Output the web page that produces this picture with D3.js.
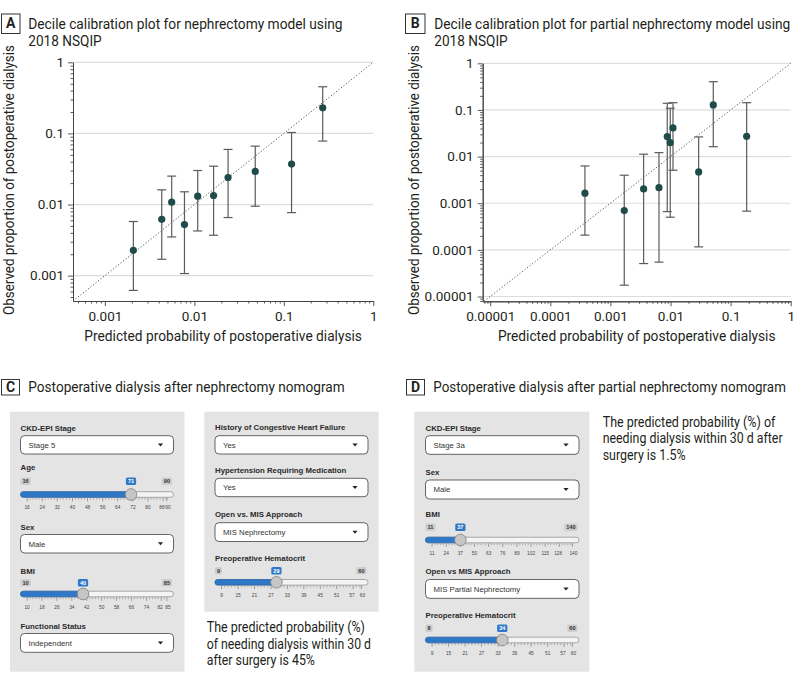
<!DOCTYPE html>
<html><head><meta charset="utf-8">
<script src="https://cdn.jsdelivr.net/npm/d3@7"></script>
<style>body{margin:0;background:#fff} svg{display:block}</style>
</head><body><svg id="fig" width="796" height="690"></svg>
<script>
// ---------------- DATA ----------------
// Panel A: decile calibration, nephrectomy model
const predA = [0.00208, 0.00432, 0.00558, 0.00775, 0.0109, 0.0164, 0.0238, 0.0479, 0.122, 0.272];
const obsA  = [0.00227, 0.0062, 0.0108, 0.00523, 0.0131, 0.0134, 0.024, 0.0292, 0.037, 0.229];
const loA   = [0.00062, 0.0017, 0.0035, 0.00107, 0.00425, 0.0037, 0.00656, 0.00946, 0.0077, 0.078];
const hiA   = [0.00577, 0.0161, 0.0251, 0.0151, 0.0301, 0.0346, 0.0595, 0.0662, 0.103, 0.453];
// Panel B: decile calibration, partial nephrectomy model
const predB = [0.000377, 0.0017, 0.00357, 0.00643, 0.00883, 0.0099, 0.011, 0.0294, 0.0515, 0.185];
const obsB  = [0.00164, 0.000695, 0.00203, 0.00216, 0.0268, 0.0199, 0.0411, 0.00469, 0.128, 0.0273];
const loB   = [0.000207, 0.0000175, 0.0000509, 0.0000546, 0.000662, 0.000502, 0.0051, 0.000116, 0.0163, 0.000676];
const hiB   = [0.0063, 0.00399, 0.01124, 0.01216, 0.139, 0.1087, 0.143, 0.0264, 0.403, 0.143];

const ticksA = [0.001, 0.01, 0.1, 1];
const tickLabelsA = ["0.001", "0.01", "0.1", "1"];
const ticksB = [0.00001, 0.0001, 0.001, 0.01, 0.1, 1];
const tickLabelsB = ["0.00001", "0.0001", "0.001", "0.01", "0.1", "1"];

const titleA = ["Decile calibration plot for nephrectomy model using", "2018 NSQIP"];
const titleB = ["Decile calibration plot for partial nephrectomy model using", "2018 NSQIP"];
const titleC = "Postoperative dialysis after nephrectomy nomogram";
const titleD = "Postoperative dialysis after partial nephrectomy nomogram";
const xTitle = "Predicted probability of postoperative dialysis";
const yTitle = "Observed proportion of postoperative dialysis";

// Nomogram inputs
const inputsC1 = [
  {kind: "select", label: "CKD-EPI Stage", value: "Stage 5"},
  {kind: "slider", label: "Age", min: 16, max: 90, value: 71, grid: [16, 24, 32, 40, 48, 56, 64, 72, 80, 88, 90]},
  {kind: "select", label: "Sex", value: "Male"},
  {kind: "slider", label: "BMI", min: 10, max: 85, value: 40, grid: [10, 18, 26, 34, 42, 50, 58, 66, 74, 82, 85]},
  {kind: "select", label: "Functional Status", value: "Independent"}
];
const inputsC2 = [
  {kind: "select", label: "History of Congestive Heart Failure", value: "Yes"},
  {kind: "select", label: "Hypertension Requiring Medication", value: "Yes"},
  {kind: "select", label: "Open vs. MIS Approach", value: "MIS Nephrectomy"},
  {kind: "slider", label: "Preoperative Hematocrit", min: 9, max: 60, value: 29, grid: [9, 15, 21, 27, 33, 39, 45, 51, 57, 60]}
];
const inputsD = [
  {kind: "select", label: "CKD-EPI Stage", value: "Stage 3a"},
  {kind: "select", label: "Sex", value: "Male"},
  {kind: "slider", label: "BMI", min: 11, max: 140, value: 37, grid: [11, 24, 37, 50, 63, 76, 89, 102, 115, 128, 140]},
  {kind: "select", label: "Open vs MIS Approach", value: "MIS Partial Nephrectomy"},
  {kind: "slider", label: "Preoperative Hematocrit", min: 8, max: 60, value: 34, grid: [9, 15, 21, 27, 33, 39, 45, 51, 57, 60]}
];
const resultC = ["The predicted probability (%)", "of needing dialysis within 30 d", "after surgery is 45%"];
const resultD = ["The predicted probability (%) of", "needing dialysis within 30 d after", "surgery is 1.5%"];

// ---------------- DRAWING ----------------
const svg = d3.select("#fig");
const FONT = "Roboto, Lato, 'DejaVu Sans', sans-serif";
const UI = "'Liberation Sans', Arial, Helvetica, sans-serif";
const INK = "#231f20";

// text placed with a horizontal scale so that its rendered width equals w
function ftext(parent, x, y, str, size, w, opts = {}) {
  const g = parent.append("g");
  const t = g.append("text").attr("x", 0).attr("y", 0).attr("font-family", opts.family || FONT)
    .attr("font-size", size).attr("fill", opts.fill || INK)
    .attr("text-anchor", opts.anchor || "start").text(str);
  if (opts.weight) t.attr("font-weight", opts.weight);
  const n = t.node().getComputedTextLength();
  const k = w ? w / n : 1;
  g.attr("transform", `translate(${x},${y})${opts.rotate ? ` rotate(${opts.rotate})` : ""} scale(${k},1)`);
  return t;
}

function panelLabel(x, y, w, h, letter) {
  svg.append("rect").attr("x", x + 0.5).attr("y", y + 0.5).attr("width", w).attr("height", h)
    .attr("fill", "#fff").attr("stroke", "#333").attr("stroke-width", 1);
  svg.append("text").attr("x", x + 0.5 + w / 2).attr("y", y + h / 2 + 5)
    .attr("text-anchor", "middle").attr("font-family", FONT).attr("font-weight", "bold")
    .attr("font-size", 14).attr("fill", INK).text(letter);
}

function calib(o) {
  const g = svg.append("g");
  const x = d3.scaleLog().domain(o.xd).range(o.xr);
  const y = d3.scaleLog().domain(o.yd).range(o.yr);
  // gridlines
  g.selectAll("line.grid").data(o.ticks).join("line").attr("class", "grid")
    .attr("x1", o.xr[0]).attr("x2", o.xr[1])
    .attr("y1", d => y(d)).attr("y2", d => y(d))
    .attr("stroke", "#dddddd").attr("stroke-width", 1.2);
  // minor ticks
  const minorX = [], minorY = [];
  for (let e = -6; e <= 0; e++) for (let m = 2; m <= 9; m++) {
    const v = m * Math.pow(10, e);
    if (v >= o.xd[0] && v <= o.xd[1]) minorX.push(v);
    if (v >= o.yd[0] && v <= o.yd[1]) minorY.push(v);
  }
  const styleAxis = s => {
    s.select(".domain").attr("stroke", "#444").attr("stroke-width", 1);
    s.selectAll(".tick line").attr("stroke", "#444").attr("stroke-width", 0.9);
    s.selectAll("text").attr("font-family", FONT).attr("font-size", 13.5).attr("fill", INK);
    s.attr("font-family", null).attr("font-size", null);
  };
  g.append("g").attr("transform", `translate(0,${o.yr[0]})`)
    .call(d3.axisBottom(x).tickValues(minorX).tickSize(2.5).tickFormat("").tickSizeOuter(0)).call(styleAxis);
  g.append("g").attr("transform", `translate(0,${o.yr[0]})`)
    .call(d3.axisBottom(x).tickValues(o.ticks).tickSize(5).tickPadding(5).tickFormat((d, i) => o.labels[i]).tickSizeOuter(0))
    .call(styleAxis);
  g.append("g").attr("transform", `translate(${o.xr[0]},0)`)
    .call(d3.axisLeft(y).tickValues(minorY).tickSize(2.5).tickFormat("").tickSizeOuter(0)).call(styleAxis);
  g.append("g").attr("transform", `translate(${o.xr[0]},0)`)
    .call(d3.axisLeft(y).tickValues(o.ticks).tickSize(5).tickPadding(4).tickFormat((d, i) => o.labels[i]).tickSizeOuter(0))
    .call(styleAxis);
  // identity line
  const d0 = Math.max(o.xd[0], o.yd[0]);
  g.append("line").attr("x1", x(d0)).attr("y1", y(d0)).attr("x2", x(1)).attr("y2", y(1))
    .attr("stroke", "#555").attr("stroke-width", 1).attr("stroke-dasharray", "1.2,2");
  // error bars
  const idx = d3.range(o.pred.length);
  const eb = g.selectAll("g.eb").data(idx).join("g").attr("class", "eb")
    .attr("stroke", "#5b5b5b").attr("stroke-width", 1.2);
  eb.append("line").attr("x1", i => x(o.pred[i])).attr("x2", i => x(o.pred[i]))
    .attr("y1", i => y(o.lo[i])).attr("y2", i => y(o.hi[i]));
  eb.append("line").attr("x1", i => x(o.pred[i]) - 4.5).attr("x2", i => x(o.pred[i]) + 4.5)
    .attr("y1", i => y(o.lo[i])).attr("y2", i => y(o.lo[i]));
  eb.append("line").attr("x1", i => x(o.pred[i]) - 4.5).attr("x2", i => x(o.pred[i]) + 4.5)
    .attr("y1", i => y(o.hi[i])).attr("y2", i => y(o.hi[i]));
  g.selectAll("circle.pt").data(idx).join("circle").attr("class", "pt")
    .attr("cx", i => x(o.pred[i])).attr("cy", i => y(o.obs[i])).attr("r", 3.6)
    .attr("fill", "#1f4c4a");
  // axis titles
  ftext(g, (o.xr[0] + o.xr[1]) / 2, 341, xTitle, 14.5, 278, {anchor: "middle"});
  ftext(g, o.ylx, 180, yTitle, 14.5, 270, {anchor: "middle", rotate: -90});
}

// Panel A
panelLabel(1, 13.5, 18.5, 19.5, "A");
ftext(svg, 28.3, 28.5, titleA[0], 14.6, 314.4);
ftext(svg, 28.3, 45.6, titleA[1], 14.6, 73.4);
calib({xd: [0.00044, 1], yd: [0.00044, 1], xr: [73, 373.3], yr: [301, 62.3],
  ticks: ticksA, labels: tickLabelsA, pred: predA, obs: obsA, lo: loA, hi: hiA, ylx: 13.5});

// Panel B
panelLabel(405, 13.5, 19.5, 19.5, "B");
ftext(svg, 434.3, 28.5, titleB[0], 14.6, 356.4);
ftext(svg, 434.3, 45.6, titleB[1], 14.6, 73.4);
calib({xd: [0.0000075, 1], yd: [0.0000079, 1], xr: [482.7, 790.7], yr: [301.3, 63.3],
  ticks: ticksB, labels: tickLabelsB, pred: predB, obs: obsB, lo: loB, hi: hiB, ylx: 418.5});

// Panel C / D titles
panelLabel(1, 379, 18, 15.5, "C");
ftext(svg, 28.3, 392, titleC, 15, 316.7);
panelLabel(406, 379, 18, 15.5, "D");
ftext(svg, 433.3, 392, titleD, 15, 352.7);

// ---------- nomogram widgets ----------
function uiLabel(g, x, yc, str) {
  g.append("text").attr("x", x).attr("y", yc + 2.8).attr("font-family", UI).attr("font-weight", "bold")
    .attr("font-size", 7.8).attr("fill", "#2a2a2a").text(str);
}
function uiSelect(g, x0, x1, top, bot, str) {
  g.append("rect").attr("x", x0).attr("y", top).attr("width", x1 - x0).attr("height", bot - top)
    .attr("rx", 4).attr("fill", "#fff").attr("stroke", "#555").attr("stroke-width", 0.9);
  g.append("text").attr("x", x0 + 8).attr("y", (top + bot) / 2 + 2.8).attr("font-family", UI)
    .attr("font-size", 7.8).attr("fill", "#333").text(str);
  const cx = x1 - 13, cy = (top + bot) / 2;
  g.append("path").attr("d", `M${cx - 2.6},${cy - 1.4}L${cx + 2.6},${cy - 1.4}L${cx},${cy + 1.6}Z`).attr("fill", "#222");
}
function badge(g, cx, cy, str, blue, anchor) {
  const t = g.append("text").attr("y", cy + 2).attr("font-family", UI).attr("font-weight", "bold")
    .attr("font-size", 5.6).attr("fill", blue ? "#fff" : "#333").attr("text-anchor", "middle").text(str);
  const w = t.node().getComputedTextLength() + 4;
  let x0 = cx - w / 2;
  if (anchor === "start") x0 = cx;
  if (anchor === "end") x0 = cx - w;
  t.attr("x", x0 + w / 2);
  g.insert("rect", () => t.node()).attr("x", x0).attr("y", cy - 3.7).attr("width", w).attr("height", 7.4)
    .attr("rx", 1.5).attr("fill", blue ? "#2f78c8" : "#cdcdcd");
}
function uiSlider(g, x0, x1, yBadge, yTrack, yGrid, s) {
  const pad = 6.6;
  const sx = d3.scaleLinear().domain([s.min, s.max]).range([x0 + pad, x1 - pad]);
  const gx = d3.scaleLinear().domain([s.grid[0], s.grid[s.grid.length - 1]]).range([x0 + pad, x1 - pad]);
  // track
  g.append("rect").attr("x", x0).attr("y", yTrack - 2.8).attr("width", x1 - x0).attr("height", 5.6)
    .attr("rx", 2.8).attr("fill", "#f4f4f4").attr("stroke", "#8a8a8a").attr("stroke-width", 0.7);
  g.append("rect").attr("x", x0).attr("y", yTrack - 2.8).attr("width", sx(s.value) - x0).attr("height", 5.6)
    .attr("rx", 2.8).attr("fill", "#2f78c8").attr("stroke", "#1d5ea8").attr("stroke-width", 0.6);
  // grid ticks
  const gl = s.grid;
  for (let i = 0; i < gl.length; i++) {
    const xv = gx(gl[i]);
    g.append("line").attr("x1", xv).attr("x2", xv).attr("y1", yTrack + 3.2).attr("y2", yTrack + 6.8)
      .attr("stroke", "#666").attr("stroke-width", 0.6);
    if (i < gl.length - 1) {
      const step = (gl[1] - gl[0]) / 5;
      for (let k = 1; k < 5; k++) {
        const v = gl[i] + k * step;
        if (v >= gl[i + 1]) break;
        g.append("line").attr("x1", gx(v)).attr("x2", gx(v)).attr("y1", yTrack + 3.2).attr("y2", yTrack + 5.2)
          .attr("stroke", "#777").attr("stroke-width", 0.5);
      }
    }
    // keep the closely spaced last pair of labels from touching
    let lx = xv;
    if (i === gl.length - 2) lx -= 1.2;
    if (i === gl.length - 1) lx += 1;
    g.append("text").attr("x", lx).attr("y", yGrid + 1.8).attr("text-anchor", "middle")
      .attr("font-family", UI).attr("font-size", 4.8).attr("fill", "#444").text(gl[i]);
  }
  // handle
  g.append("circle").attr("cx", sx(s.value)).attr("cy", yTrack).attr("r", 5.8)
    .attr("fill", "#c6c6c6").attr("stroke", "#7d7d7d").attr("stroke-width", 0.8);
  // badges
  badge(g, x0, yBadge, s.min, false, "start");
  badge(g, x1 - 1.5, yBadge, s.max, false, "end");
  badge(g, sx(s.value), yBadge, s.value, true, "middle");
}
function nomo(box, inputs, layout) {
  const g = svg.append("g");
  g.append("rect").attr("x", box.x0).attr("y", box.y0).attr("width", box.x1 - box.x0).attr("height", box.y1 - box.y0)
    .attr("fill", "#e4e4e4");
  inputs.forEach((it, i) => {
    const L = layout[i];
    uiLabel(g, box.ix0, L.label, it.label);
    if (it.kind === "select") uiSelect(g, box.ix0, box.ix1, L.top, L.bot, it.value);
    else uiSlider(g, box.ix0, box.ix1, L.badge, L.track, L.grid, it);
  });
}

nomo({x0: 10, x1: 184.5, y0: 411.7, y1: 671.7, ix0: 20.5, ix1: 173.5}, inputsC1, [
  {label: 428, top: 435.7, bot: 454},
  {label: 467.3, badge: 481.3, track: 494.5, grid: 507.2},
  {label: 526.7, top: 534.5, bot: 553},
  {label: 571, badge: 582.7, track: 594, grid: 607.2},
  {label: 626.3, top: 633.5, bot: 652.3}
]);
nomo({x0: 204.3, x1: 378.7, y0: 411.7, y1: 611.7, ix0: 215, ix1: 368}, inputsC2, [
  {label: 427.5, top: 435.7, bot: 454},
  {label: 469.7, top: 478.3, bot: 496.7},
  {label: 514.5, top: 522.7, bot: 541.5},
  {label: 558.3, badge: 570.7, track: 582.3, grid: 595.3}
]);
nomo({x0: 414.3, x1: 589.3, y0: 411.7, y1: 671.7, ix0: 425.5, ix1: 579}, inputsD, [
  {label: 428.5, top: 435.7, bot: 454.3},
  {label: 472.5, top: 480, bot: 499},
  {label: 514.2, badge: 527.3, track: 540, grid: 553.3},
  {label: 571.3, top: 579.5, bot: 598.3},
  {label: 615.5, badge: 628.3, track: 640, grid: 653}
]);

// result texts
const rcW = [158.3, 164.3, 108.3];
resultC.forEach((s, i) => ftext(svg, 206.7, 632 + i * 16.6, s, 14.2, rcW[i]));
const rdW = [172.7, 180, 83];
resultD.forEach((s, i) => ftext(svg, 602.7, 426.5 + i * 16.6, s, 14.2, rdW[i]));
</script></body></html>
